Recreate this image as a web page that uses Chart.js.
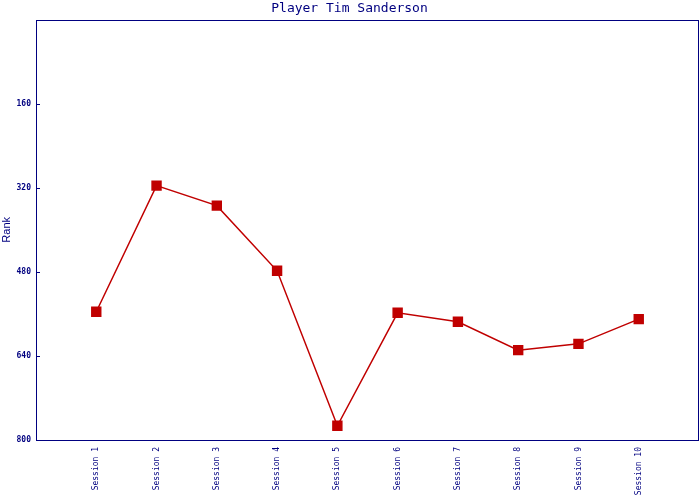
<!DOCTYPE html>
<html>
<head>
<meta charset="utf-8">
<script src="https://cdn.jsdelivr.net/npm/chart.js@4"></script>
<style>
  html, body { margin: 0; padding: 0; background: #fff; overflow: hidden; }
  #wrap { width: 700px; height: 500px; position: relative; }
</style>
</head>
<body>
<div id="wrap"><canvas id="GraficaRank"></canvas></div>
<script>
// datos del jugador
var sessions = ['Session 1', 'Session 2', 'Session 3', 'Session 4', 'Session 5',
                'Session 6', 'Session 7', 'Session 8', 'Session 9', 'Session 10'];
var ranks = [556, 316, 354, 478, 773, 558, 575, 629, 617, 570];
var rankTicks = [160, 320, 480, 640, 800];

var navy = '#000080';
var rojo = '#C00000';

// marco alrededor del area y marcas hacia dentro en el eje Y
var marco = {
    id: 'marco',
    afterDraw: function (chart) {
        var ctx = chart.ctx, a = chart.chartArea, y = chart.scales.y;
        ctx.save();
        ctx.strokeStyle = navy;
        ctx.lineWidth = 1;
        ctx.strokeRect(Math.round(a.left) + 0.5, Math.round(a.top) + 0.5,
                       Math.round(a.right - a.left) - 1, Math.round(a.bottom - a.top));
        ctx.beginPath();
        rankTicks.forEach(function (v) {
            var py = Math.round(y.getPixelForValue(v)) + 0.5;
            ctx.moveTo(a.left, py);
            ctx.lineTo(a.left + 4, py);
        });
        ctx.stroke();
        ctx.restore();
    }
};

var puntos = ranks.map(function (r, i) { return { x: i + 1, y: r }; });

new Chart(document.getElementById('GraficaRank'), {
    type: 'line',
    data: {
        datasets: [{
            label: 'Rank',
            data: puntos,
            borderColor: rojo,
            backgroundColor: rojo,
            borderWidth: 1.5,
            pointStyle: 'rect',
            pointRadius: 6.3,
            pointHoverRadius: 6.3,
            tension: 0
        }]
    },
    options: {
        responsive: true,
        maintainAspectRatio: false,
        animation: false,
        layout: { autoPadding: false, padding: { left: 0, right: 1, top: 0, bottom: 0 } },
        plugins: {
            legend: { display: false },
            tooltip: { enabled: false },
            title: {
                display: true,
                text: 'Player Tim Sanderson',
                color: navy,
                font: { family: 'DejaVu Sans Mono', size: 13, weight: 'normal' },
                padding: { top: 1, bottom: 3 }
            }
        },
        scales: {
            x: {
                type: 'linear',
                min: 0,
                max: 11,
                grid: { display: false, drawTicks: false, tickLength: 0 },
                border: { display: false },
                afterFit: function (s) {
                    s.height = 60;
                    s.paddingLeft = 0;
                    s.paddingRight = 0;
                },
                afterBuildTicks: function (s) {
                    s.ticks = [{ value: 0 }].concat(
                        sessions.map(function (n, i) { return { value: i + 1 }; }),
                        [{ value: 11 }]);
                },
                ticks: {
                    autoSkip: false,
                    minRotation: 90,
                    maxRotation: 90,
                    padding: 7,
                    color: navy,
                    font: { family: 'DejaVu Sans Mono', size: 8 },
                    callback: function (v) { return sessions[v - 1] || ''; }
                }
            },
            y: {
                reverse: true,
                min: 0,
                max: 800,
                grid: { display: false, drawTicks: false, tickLength: 0 },
                border: { display: false },
                afterFit: function (s) {
                    s.width = 36;
                    s.paddingTop = 0;
                    s.paddingBottom = 0;
                },
                afterBuildTicks: function (s) {
                    s.ticks = rankTicks.map(function (v) { return { value: v }; });
                },
                title: {
                    display: true,
                    text: 'Rank',
                    color: navy,
                    font: { family: 'Liberation Sans', size: 11 },
                    padding: 0
                },
                ticks: {
                    padding: 5,
                    color: navy,
                    font: { family: 'DejaVu Sans Mono', size: 8, weight: 'bold' }
                }
            }
        }
    },
    plugins: [marco]
});
</script>
</body>
</html>
